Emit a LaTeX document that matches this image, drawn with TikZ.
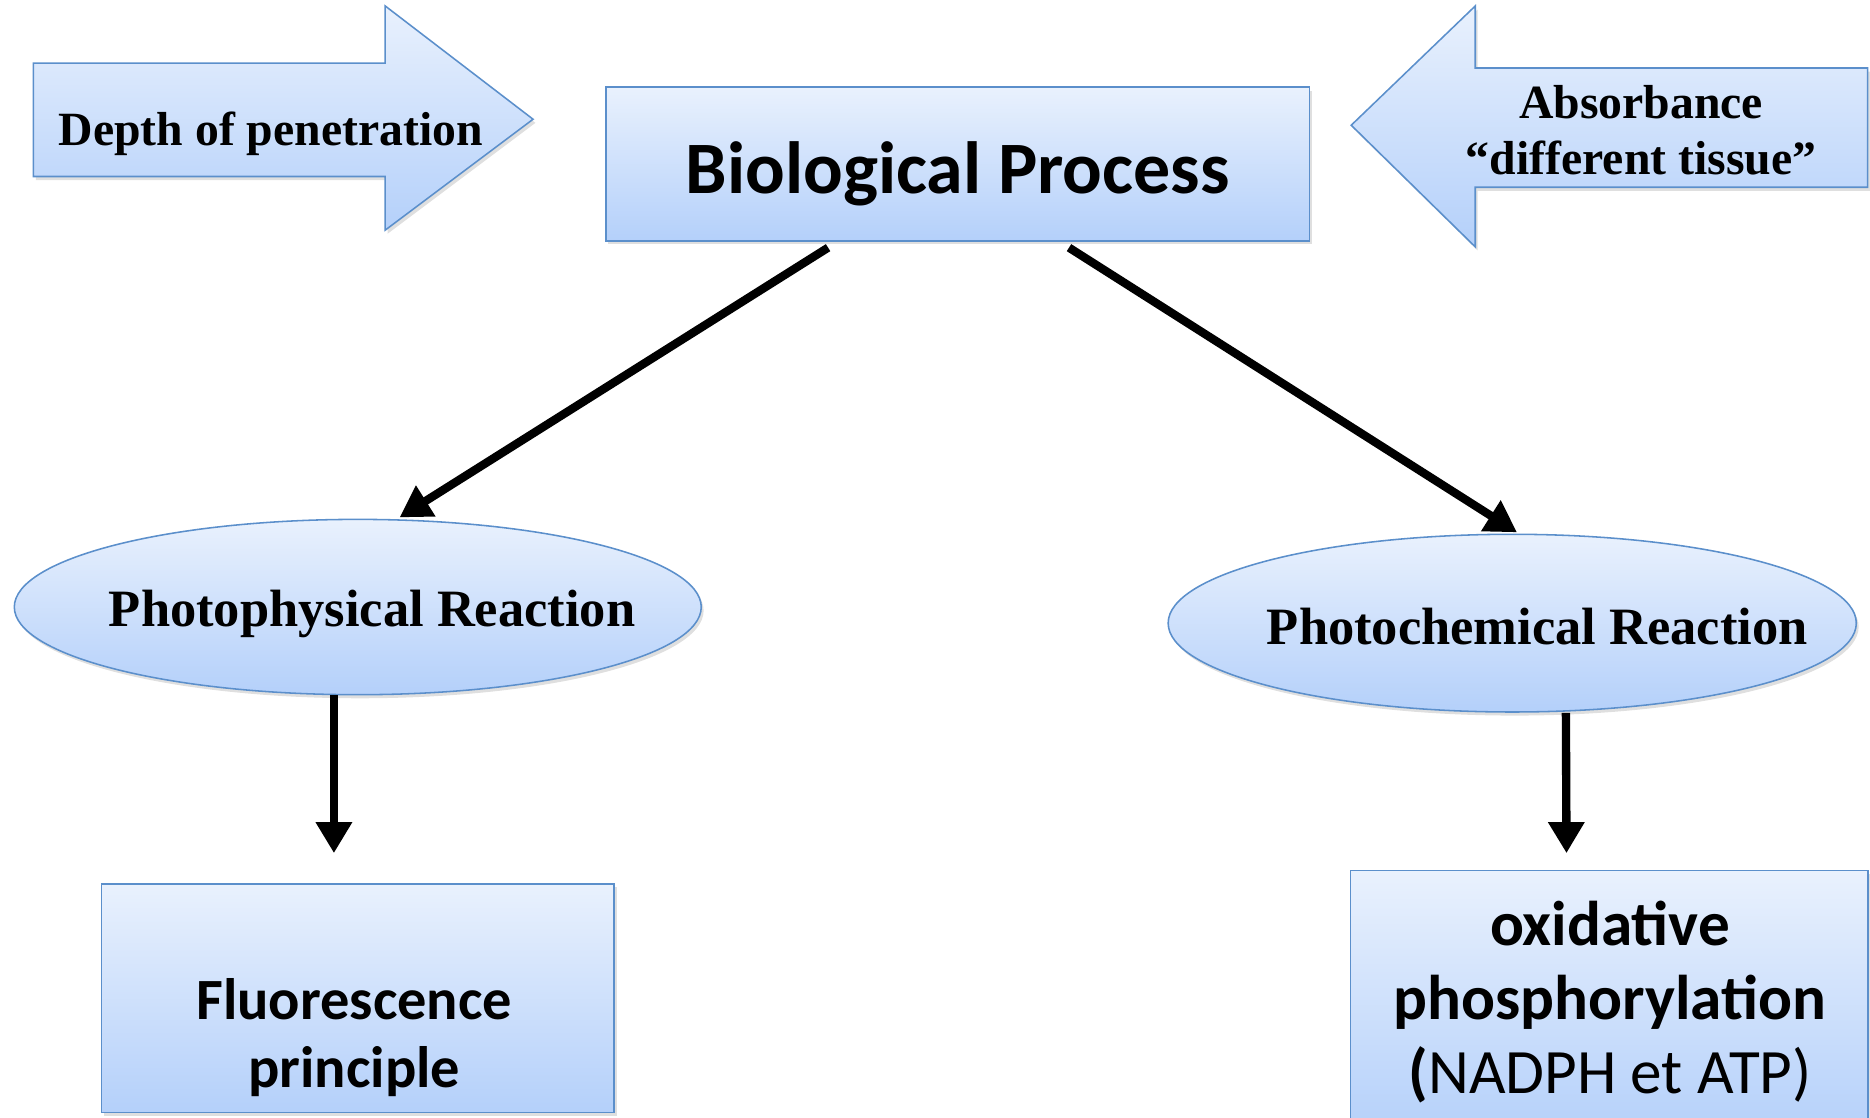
\documentclass[tikz,border=0pt]{standalone}
\usepackage{fontspec}
\newfontfamily\tnr[Ligatures=TeX]{Liberation Serif}
\newfontfamily\calib{Carlito}
\usetikzlibrary{shapes.geometric,arrows.meta,calc,shadows}
\definecolor{bordc}{HTML}{5B8FCB}
\definecolor{topc}{HTML}{E9F1FD}
\definecolor{botc}{HTML}{B4D0FA}
\begin{document}
\begin{tikzpicture}[x=1pt,y=-1pt,
  blu/.style={draw=bordc, line width=1.3pt, top color=topc, bottom color=botc,
    drop shadow={opacity=0.25, shadow xshift=2pt, shadow yshift=-3pt}},
  box/.style={blu, rectangle, inner sep=0pt},
  ell/.style={blu, ellipse, inner sep=0pt},
  serift/.style={font=\tnr\bfseries\fontsize{40}{47}\selectfont, align=center, inner sep=0pt},
  ellt/.style={font=\tnr\bfseries\fontsize{44}{50}\selectfont, inner sep=0pt},
  conn/.style={line width=7pt, -{Triangle[length=26pt,width=29pt]}}
]
\useasboundingbox (0,0) rectangle (1568,937);

% block arrows
\path[blu] (28,53) -- (323,53) -- (323,5) -- (447,100) -- (323,193) -- (323,148) -- (28,148) -- cycle;
\node[serift] (depth) at (227,112) {Depth of penetration};
\path[blu] (1133,105) -- (1237,5) -- (1237,57) -- (1566,57) -- (1566,157) -- (1237,157) -- (1237,207) -- cycle;
\node[serift] (absorb) at (1376,109) {Absorbance\\“different tissue”};

% main box
\node[box, minimum width=590pt, minimum height=129pt] (bio) at (803,137.5) {};
\node[font=\calib\bfseries\fontsize{62}{70}\selectfont, inner sep=0pt] (biot) at (803,146) {Biological Process};

% ellipses
\node[ell, minimum width=576pt, minimum height=147pt] (phys) at (300,509) {};
\node[ellt] (physt) at (312,515) {Photophysical Reaction};
\node[ell, minimum width=577pt, minimum height=149pt] (chem) at (1268,522.5) {};
\node[ellt] (chemt) at (1289,525) {Photochemical Reaction};

% bottom boxes
\node[box, minimum width=430pt, minimum height=192pt] (fluo) at (300,837) {};
\node[font=\calib\bfseries\fontsize{49}{57}\selectfont, align=center, inner sep=0pt] (fluot) at (297,870) {Fluorescence\\principle};
\node[box, minimum width=434pt, minimum height=224pt] (oxid) at (1349.5,842) {};
\node[font=\calib\fontsize{53}{62}\selectfont, align=center, inner sep=0pt] (oxidt) at (1350,840) {\bfseries oxidative\\\bfseries phosphorylation\\{\bfseries(}NADPH et ATP)};

% connectors
\draw[conn] ($(bio.south west)+(187,5)$) -- ($(phys.north)+(35,-1)$);
\draw[conn] ($(bio.south west)+(389,5)$) -- ($(chem.north)+(4,-1)$);
\draw[conn] ($(phys.south)+(-20,0)$) -- ($(fluo.north)+(-20,-25)$);
\draw[conn] ($(chem.south)+(45,0)$) -- ($(oxid.north)+(-36,-14)$);
\end{tikzpicture}
\end{document}
